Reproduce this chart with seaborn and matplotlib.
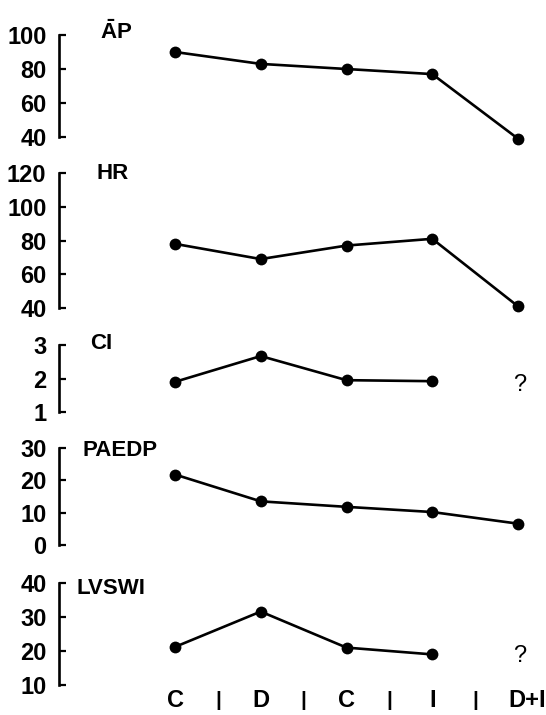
import matplotlib
matplotlib.use("Agg")
import matplotlib.pyplot as plt
import matplotlib.transforms as mtransforms
import seaborn as sns
import numpy as np

# ---------------- data ----------------
categories = ["C", "D", "C", "I", "D+I"]
separators = ["|", "|", "|", "|"]

ap_values = [90, 83, 80, 77, 39]
hr_values = [78, 69, 77, 81, 41]
ci_values = [1.9, 2.67, 1.95, 1.92]          # D+I unknown ("?")
paedp_values = [21.8, 13.5, 11.8, 10.2, 6.6]
lvswi_values = [21.2, 31.6, 21.0, 19.0]       # D+I unknown ("?")

panel_names = [r"$\mathbf{\bar{A}P}$", "HR", "CI", "PAEDP", "LVSWI"]
panel_series = [ap_values, hr_values, ci_values, paedp_values, lvswi_values]
panel_yticks = [[40, 60, 80, 100],
                [40, 60, 80, 100, 120],
                [1, 2, 3],
                [0, 10, 20, 30],
                [10, 20, 30, 40]]
unknown_marks = {2: 1.8, 4: 18.5}   # panel index -> y of "?" at D+I

# ---------------- style ----------------
sns.set_style("white")
plt.rcParams["font.family"] = ["Liberation Sans", "DejaVu Sans"]
plt.rcParams["font.weight"] = "bold"
plt.rcParams["mathtext.fontset"] = "custom"
plt.rcParams["mathtext.rm"] = "Liberation Sans"
plt.rcParams["mathtext.bf"] = "Liberation Sans:bold"

W, H = 546, 715
fig = plt.figure(figsize=(W / 100, H / 100), dpi=100)

# axes boxes in pixels: (top, bottom) of the y-spine
spine_px = [(35, 137), (173, 308), (345, 412), (448, 545), (583, 685)]
left_px, right_px = 59, 546
x0_px, step_px = 175, 85.75
xlim = ((left_px - x0_px) / step_px, (right_px - x0_px) / step_px)

# label offsets (px from top-left of axes): dx, dy (positive down)
label_off = [(41, -3), (38, 0), (31, -1.5), (23, 2), (18, 6)]

xpos = np.arange(len(categories))
axes = []
for i, (name, vals, yt) in enumerate(zip(panel_names, panel_series, panel_yticks)):
    top, bot = spine_px[i]
    ax = fig.add_axes([left_px / W, (H - bot) / H, (right_px - left_px) / W, (bot - top) / H])
    sns.lineplot(x=xpos[:len(vals)], y=vals, ax=ax, color="black",
                 linewidth=1.9, marker="o", markersize=8.5, markeredgewidth=0)
    for ln in ax.lines:
        ln.set_clip_on(False)
    ax.set_xlim(*xlim)
    ax.set_ylim(yt[0], yt[-1])
    ax.set_yticks(yt)
    ax.set_yticklabels([str(v) for v in yt])
    for s in ["top", "right", "bottom"]:
        ax.spines[s].set_visible(False)
    ax.spines["left"].set_linewidth(1.9)
    ax.spines["left"].set_color("black")
    ax.spines["left"].set_capstyle("projecting")
    ax.tick_params(axis="y", left=True, direction="in", length=5, width=1.6,
                   labelsize=17, pad=9, colors="black")
    ax.set_xticks([])
    ax.set_xlabel("")
    ax.set_ylabel("")
    dx, dy = label_off[i]
    ax.annotate(name, xy=(0, 1), xycoords="axes fraction",
                xytext=(dx * 0.72, -dy * 0.72), textcoords="offset points",
                ha="left", va="center", fontsize=16, fontweight="bold", color="black")
    if i in unknown_marks:
        ax.text(4.02, unknown_marks[i], "?", ha="center", va="center",
                fontsize=17, fontweight="normal", color="black")
    axes.append(ax)

# bottom category labels
ax = axes[-1]
ax.set_xticks(xpos, labels=categories)
ax.set_xticks(xpos[:-1] + 0.5, labels=separators, minor=True)
ax.tick_params(axis="x", which="major", bottom=True, length=0, pad=3,
               labelsize=17, colors="black")
ax.tick_params(axis="x", which="minor", bottom=True, length=0, pad=4,
               labelsize=15, colors="black")
last = ax.get_xticklabels()[-1]
last.set_transform(last.get_transform() +
                   mtransforms.ScaledTranslation(9 / 100, 0, fig.dpi_scale_trans))

fig.savefig("out.png", dpi=100)
